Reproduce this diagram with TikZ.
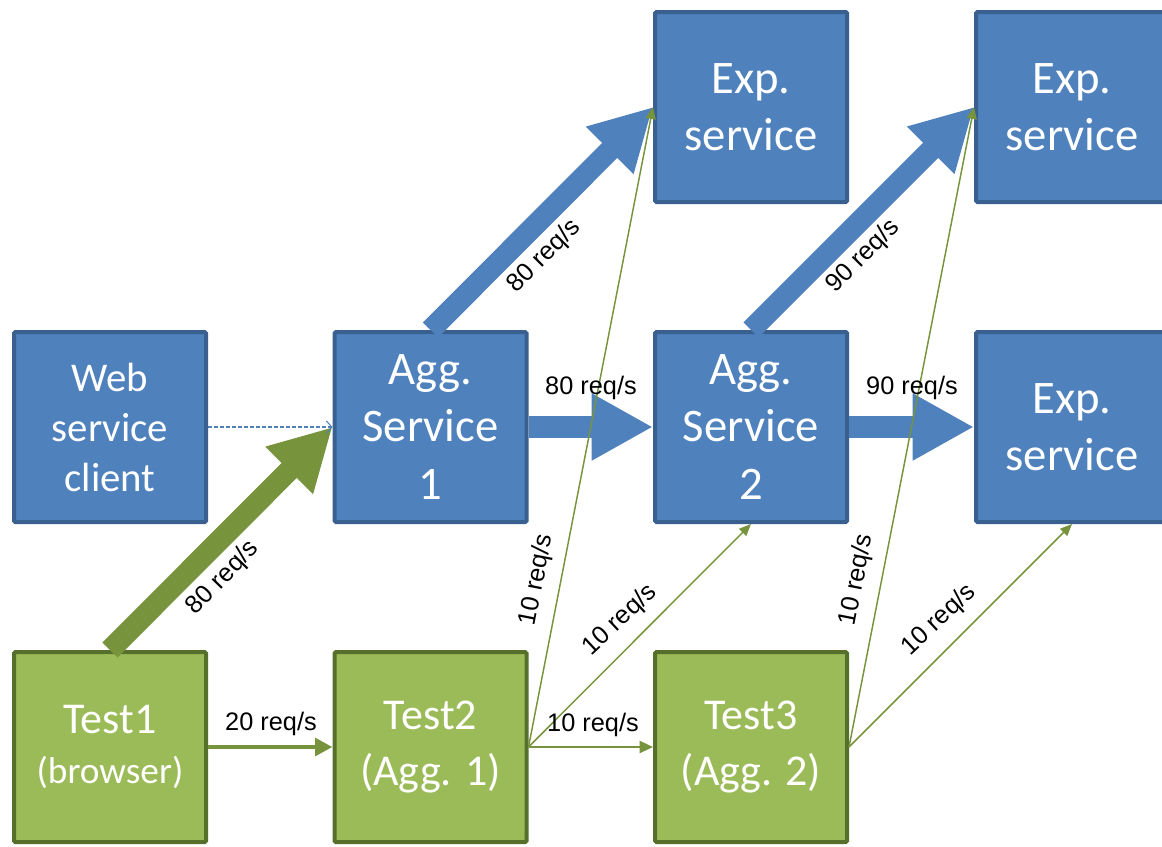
\documentclass[tikz,border=0pt]{standalone}
\usepackage{fontspec}
\setmainfont{Carlito}
\newfontfamily\labfont{Liberation Sans}
\usetikzlibrary{arrows.meta}
\definecolor{bfill}{HTML}{4F81BD}
\definecolor{bdraw}{HTML}{3A6090}
\definecolor{gfill}{HTML}{9BBB59}
\definecolor{gdraw}{HTML}{56702B}
\definecolor{garrow}{HTML}{77933C}
\definecolor{barrow}{HTML}{4F81BD}
\begin{document}
\begin{tikzpicture}[x=0.75pt,y=-0.75pt,
 box/.style={rectangle, rounded corners=1pt, minimum width=144pt, minimum height=142.5pt, line width=3pt, text=white, align=center, inner sep=0pt},
 bluebox/.style={box, fill=bfill, draw=bdraw, font=\fontsize{35}{43}\selectfont},
 greenbox/.style={box, fill=gfill, draw=gdraw, font=\fontsize{33}{42}\selectfont},
 lbl/.style={font=\labfont\fontsize{19}{22}\selectfont, text=black, inner sep=0pt},
 bigarrow/.style={line width=16pt, -{Triangle[length=46pt,width=47pt]}},
 thinarrow/.style={draw=garrow, line width=1.1pt, -{Triangle[length=9pt,width=7.5pt]}},
]
\useasboundingbox (0,0) rectangle (1162,846);
\clip (0,0) rectangle (1162,846);

% boxes
\node[bluebox, font=\fontsize{30.6}{37.5}\selectfont] (web) at (110,427) {Web\\service\\client};
\node[bluebox] (agg1) at (430.5,427) {Agg.\\Service\\1};
\node[bluebox] (agg2) at (751,427) {Agg.\\Service\\2};
\node[bluebox] (exp3) at (1072,427) {Exp.\\service};
\node[bluebox] (exp1) at (751,107) {Exp.\\service};
\node[bluebox] (exp2) at (1072,107) {Exp.\\service};
\node[greenbox] (test1) at (110,747) {Test1\\[-4pt]{\fontsize{28}{34}\selectfont (browser)}};
\node[greenbox] (test2) at (430.5,747) {Test2\\(Agg. 1)};
\node[greenbox] (test3) at (751,747) {Test3\\(Agg. 2)};

% big arrows
\draw[bigarrow, draw=garrow] (test1.north) -- (agg1.west);
\draw[bigarrow, draw=barrow] (agg1.north) -- (exp1.west);
\draw[bigarrow, draw=barrow] (agg2.north) -- (exp2.west);
\draw[bigarrow, draw=barrow] (agg1.east) -- (agg2.west);
\draw[bigarrow, draw=barrow] (agg2.east) -- (exp3.west);

% dashed
\draw[draw=barrow, line width=0.8pt, dash pattern=on 3pt off 1.5pt, -{Straight Barb[length=4pt,width=9pt]}] (web.east) -- (agg1.west);

% green arrows
\draw[draw=garrow, line width=3.5pt, -{Triangle[length=13pt,width=13pt]}] (test1.east) -- (test2.west);
\draw[draw=garrow, line width=1.6pt, -{Triangle[length=10pt,width=9pt]}] (test2.east) -- (test3.west);
\draw[thinarrow] (test2.east) -- (exp1.west);
\draw[thinarrow] (test2.east) -- (agg2.south);
\draw[thinarrow] (test3.east) -- (exp2.west);
\draw[thinarrow] (test3.east) -- (exp3.south);

% labels
\node[lbl, rotate=46] (l1) at (223,578) {80 req/s};
\node[lbl, rotate=45] (l2) at (544,256) {80 req/s};
\node[lbl, rotate=45] (l3) at (863,256) {90 req/s};
\node[lbl] (l4) at (591,388) {80 req/s};
\node[lbl] (l5) at (912,388) {90 req/s};
\node[lbl] (l6) at (271,724) {20 req/s};
\node[lbl] (l7) at (593,725) {10 req/s};
\node[lbl, rotate=79] (l8) at (537,580) {10 req/s};
\node[lbl, rotate=43] (l9) at (620,620) {10 req/s};
\node[lbl, rotate=79] (l10) at (857,580) {10 req/s};
\node[lbl, rotate=43] (l11) at (939,620) {10 req/s};
\end{tikzpicture}
\end{document}
